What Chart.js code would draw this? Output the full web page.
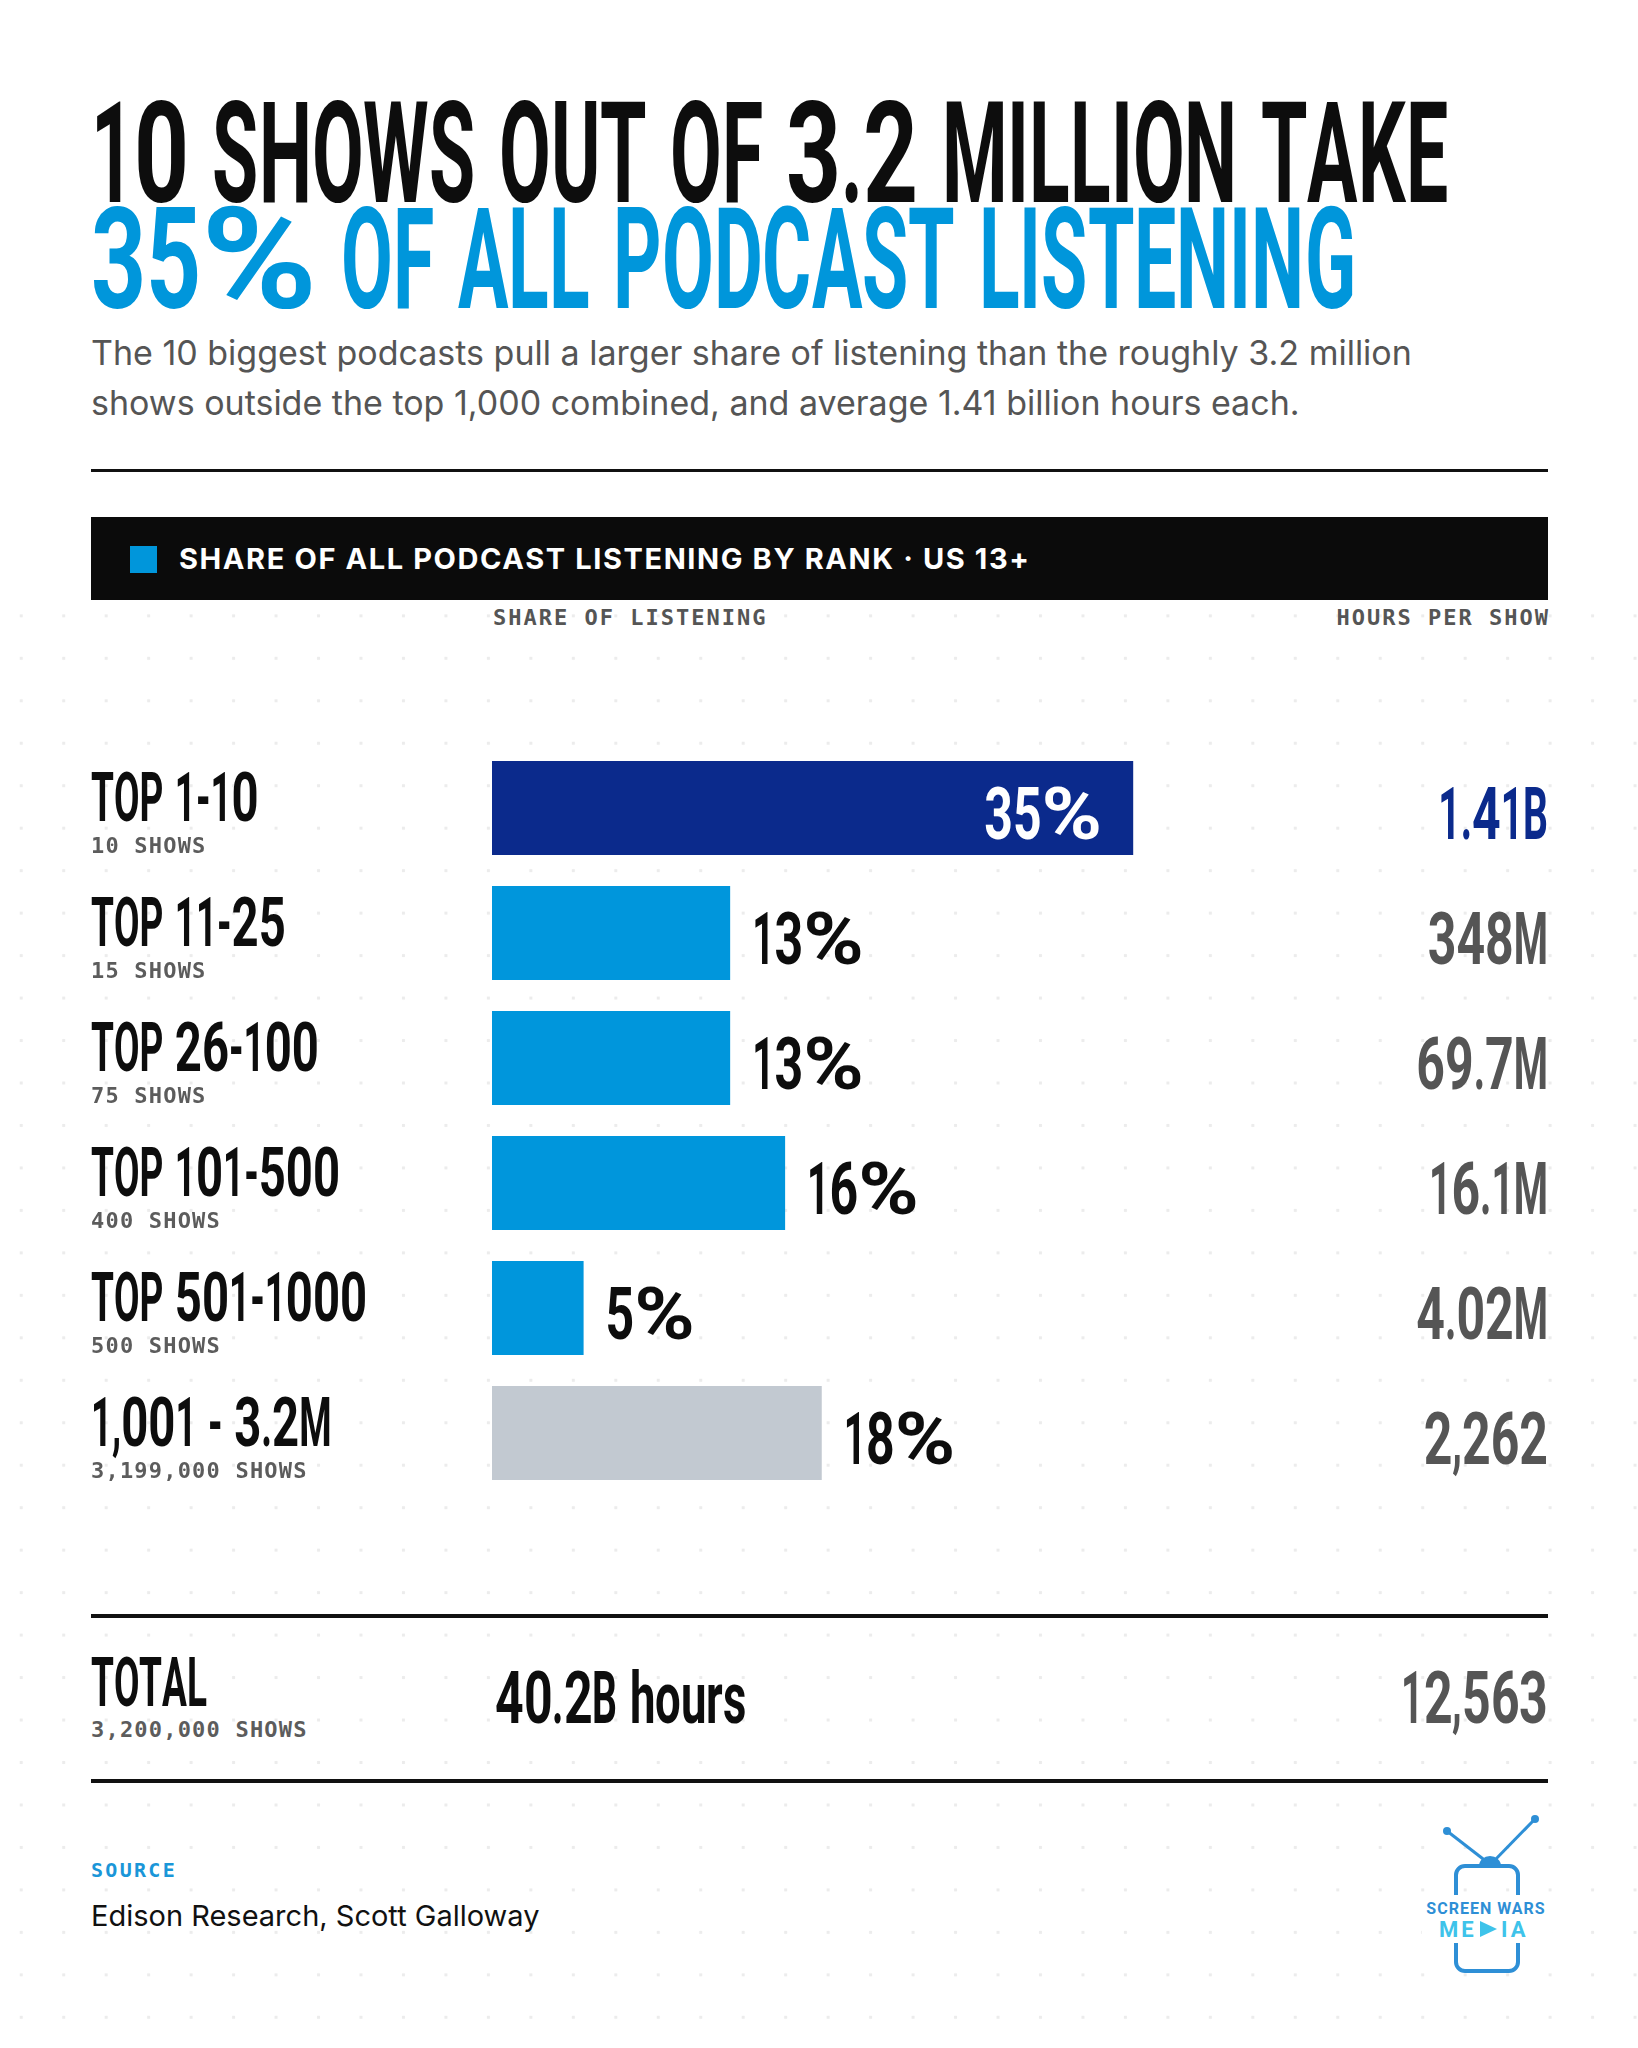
<!DOCTYPE html>
<html>
<head>
<meta charset="utf-8">
<script src="https://cdn.jsdelivr.net/npm/chart.js@4.4.1/dist/chart.umd.min.js"></script>
<style>
  html, body { margin: 0; padding: 0; background: #fff; }
  body { width: 1638px; height: 2048px; position: relative; overflow: hidden; }
  .abs { position: absolute; white-space: nowrap; line-height: 1; }
  .dots {
    position: absolute; left: 0; top: 600px; width: 1638px; height: 1448px;
    background-image: radial-gradient(circle at center, #ececec 0, #ececec 1.5px, transparent 2px);
    background-size: 42.47px 42.47px;
    background-position: 0 -5.4px;
  }
  .cond { font-family: Roboto, sans-serif; font-weight: 700; }
  .mono { font-family: "DejaVu Sans Mono", monospace; font-weight: 700; }
  .rule { position: absolute; left: 91px; width: 1457px; background: #111; }
  #chartWrap { position: absolute; left: 0; top: 700px; width: 1638px; height: 800px; }
</style>
</head>
<body>
<div class="dots"></div>

<div class="abs cond" id="title1" data-fit="1357" style="left:91px; top:83px; font-size:141px; color:#0d0d0d;">10 SHOWS OUT OF 3.2 MILLION TAKE</div>
<div class="abs cond" id="title2" data-fit="1265" style="left:91px; top:189px; font-size:141px; color:#0096db;">35% OF ALL PODCAST LISTENING</div>

<div class="abs" style="left:91px; top:328px; font-family:Inter, sans-serif; font-size:34px; line-height:50px; color:#555;">The 10 biggest podcasts pull a larger share of listening than the roughly 3.2 million<br>shows outside the top 1,000 combined, and average 1.41 billion hours each.</div>

<div class="rule" style="top:469px; height:3px;"></div>

<!-- chart title band -->
<div style="position:absolute; left:91px; top:517px; width:1457px; height:83px; background:#0b0b0b;"></div>
<div style="position:absolute; left:130px; top:546px; width:27px; height:27px; background:#0096db;"></div>
<div class="abs" style="left:179px; top:544px; font-family:Inter, sans-serif; font-weight:700; font-size:29px; letter-spacing:1.6px; color:#fff;">SHARE OF ALL PODCAST LISTENING BY RANK · US 13+</div>

<div class="abs mono" style="left:493px; top:607px; font-size:22px; letter-spacing:2px; color:#555;">SHARE OF LISTENING</div>
<div class="abs mono" style="right:88px; top:607px; font-size:22px; letter-spacing:2px; color:#555;">HOURS PER SHOW</div>

<div id="chartWrap"><canvas id="shareChart" width="1638" height="800"></canvas></div>

<!-- totals -->
<div class="rule" style="top:1614px; height:4px;"></div>
<div class="abs cond" style="left:91px; top:1648px; font-size:69px; color:#0d0d0d;">TOTAL</div>
<div class="abs mono" style="left:91px; top:1719px; font-size:22px; letter-spacing:1.2px; color:#5c5c5c;">3,200,000 SHOWS</div>
<div class="abs cond" style="left:495px; top:1662px; font-size:73px; color:#0d0d0d;">40.2B hours</div>
<div class="abs cond" style="right:90px; top:1662px; font-size:73px; color:#555;">12,563</div>
<div class="rule" style="top:1779px; height:4px;"></div>

<!-- source -->
<div class="abs mono" style="left:91px; top:1860px; font-size:20px; letter-spacing:2.3px; color:#1a96d8;">SOURCE</div>
<div class="abs" style="left:91px; top:1901px; font-family:Inter, sans-serif; font-size:29px; color:#111;">Edison Research, Scott Galloway</div>

<!-- logo -->
<svg style="position:absolute; left:1400px; top:1800px;" width="200" height="200" viewBox="0 0 200 200">
  <line x1="47" y1="31" x2="87" y2="62" stroke="#2e8fd6" stroke-width="3"/>
  <line x1="135" y1="19" x2="93" y2="62" stroke="#2e8fd6" stroke-width="3"/>
  <circle cx="47" cy="31" r="4" fill="#2e8fd6"/>
  <circle cx="135" cy="19" r="4" fill="#2e8fd6"/>
  <path d="M79 66 A11 10 0 0 1 101 66 Z" fill="#2e8fd6"/>
  <rect x="56" y="66" width="62" height="105" rx="9" fill="none" stroke="#2e8fd6" stroke-width="4"/>
  <rect x="22" y="95" width="130" height="48" fill="#fff"/>
  <text x="86" y="114" text-anchor="middle" font-family="Roboto, sans-serif" font-weight="700" font-size="16" letter-spacing="1" fill="#2e8fd6">SCREEN WARS</text>
  <text x="39" y="137" font-family="Roboto, sans-serif" font-weight="700" font-size="22" letter-spacing="3" fill="#3ec3ea">ME</text>
  <polygon points="80,121 97,129 80,137" fill="#3ec3ea"/>
  <text x="101" y="137" font-family="Roboto, sans-serif" font-weight="700" font-size="22" letter-spacing="3" fill="#3ec3ea">IA</text>
</svg>

<script>
// chart data
const rankGroups = ['TOP 1-10', 'TOP 11-25', 'TOP 26-100', 'TOP 101-500', 'TOP 501-1000', '1,001 - 3.2M'];
const showCounts = ['10 SHOWS', '15 SHOWS', '75 SHOWS', '400 SHOWS', '500 SHOWS', '3,199,000 SHOWS'];
const shareOfListening = [35, 13, 13, 16, 5, 18];
const hoursPerShow = ['1.41B', '348M', '69.7M', '16.1M', '4.02M', '2,262'];

const NAVY = '#0b2a8c';
const BLUE = '#0096dc';
const GREY = '#c2c9d1';
const INK = '#0d0d0d';

const measureCtx = document.createElement('canvas').getContext('2d');

function measure(text, size) {
  measureCtx.font = '700 ' + size + 'px Roboto';
  return measureCtx.measureText(text).width;
}

// the condensed headline face is faked by squeezing Roboto Bold
const SX = 1358 / measure('10 SHOWS OUT OF 3.2 MILLION TAKE', 141);

// the original face has wide digits, a narrow 1, roomy lowercase and a big % sign
function charFactor(ch) {
  if (ch === '1') return 0.95;
  if (/[0-9]/.test(ch)) return 1.22;
  if (ch === '%') return 2.0;
  if (/[a-z]/.test(ch)) return 1.11;
  if (ch === ' ') return 1.2;
  return 0.955;
}

function charWidth(ch, size, sx) {
  return measure(ch, size) * sx * charFactor(ch);
}

// rebuild an html line as one squeezed box per character
function buildCondensed(el, sx) {
  const size = parseFloat(el.style.fontSize);
  const text = el.dataset.text || el.textContent;
  el.dataset.text = text;
  el.textContent = '';
  let total = 0;
  for (const ch of text) {
    const k = sx * charFactor(ch);
    const w = charWidth(ch, size, sx);
    const s = document.createElement('span');
    s.textContent = ch === ' ' ? '\u00a0' : ch;
    s.style.display = 'inline-block';
    s.style.width = w + 'px';
    s.style.transform = 'scaleX(' + k + ')';
    s.style.transformOrigin = '0 0';
    el.appendChild(s);
    total += w;
  }
  return total;
}

document.querySelectorAll('.cond').forEach(el => {
  const total = buildCondensed(el, SX);
  if (el.dataset.fit) {
    buildCondensed(el, SX * Number(el.dataset.fit) / total);
  }
});

// draw squeezed text on the canvas at a baseline point
function condText(ctx, text, x, y, size, color, align) {
  let total = 0;
  for (const ch of text) total += charWidth(ch, size, SX);
  let cx = align === 'right' ? x - total : x;
  ctx.save();
  ctx.font = '700 ' + size + 'px Roboto';
  ctx.fillStyle = color;
  ctx.textAlign = 'left';
  ctx.textBaseline = 'alphabetic';
  for (const ch of text) {
    ctx.save();
    ctx.translate(cx, y);
    ctx.scale(SX * charFactor(ch), 1);
    ctx.fillText(ch, 0, 0);
    ctx.restore();
    cx += charWidth(ch, size, SX);
  }
  ctx.restore();
}

function barColor(i) {
  if (i === 0) return NAVY;
  if (i === rankGroups.length - 1) return GREY;
  return BLUE;
}

// row labels, value labels and hours column
const rowLabels = {
  id: 'rowLabels',
  afterDatasetsDraw(chart) {
    const ctx = chart.ctx;
    const meta = chart.getDatasetMeta(0);
    const maxShare = Math.max(...shareOfListening);
    meta.data.forEach((bar, i) => {
      const top = bar.y - bar.height / 2;

      condText(ctx, chart.data.labels[i], 91, top + 60, 69, INK, 'left');

      ctx.save();
      ctx.font = '700 22px "DejaVu Sans Mono"';
      ctx.letterSpacing = '1.2px';
      ctx.fillStyle = '#5c5c5c';
      ctx.textAlign = 'left';
      ctx.fillText(showCounts[i], 91, top + 92);
      ctx.restore();

      const label = shareOfListening[i] + '%';
      if (shareOfListening[i] === maxShare) {
        condText(ctx, label, bar.x - 31, top + 78, 73, '#fff', 'right');
      } else {
        condText(ctx, label, bar.x + 22, top + 78, 73, INK, 'left');
      }

      condText(ctx, hoursPerShow[i], 1548, top + 78, 73, i === 0 ? NAVY : '#555', 'right');
    });
  }
};

new Chart(document.getElementById('shareChart'), {
  type: 'bar',
  data: {
    labels: rankGroups,
    datasets: [{
      data: shareOfListening,
      backgroundColor: rankGroups.map((g, i) => barColor(i)),
      borderWidth: 0,
      barPercentage: 0.752,
      categoryPercentage: 1
    }]
  },
  plugins: [rowLabels],
  options: {
    indexAxis: 'y',
    responsive: false,
    animation: false,
    events: [],
    layout: { padding: { left: 492, right: 230, top: 45.5, bottom: 4.5 } },
    scales: {
      x: { display: false, min: 0, max: 50 },
      y: { display: false }
    },
    plugins: {
      legend: { display: false },
      tooltip: { enabled: false }
    }
  }
});
</script>
</body>
</html>
